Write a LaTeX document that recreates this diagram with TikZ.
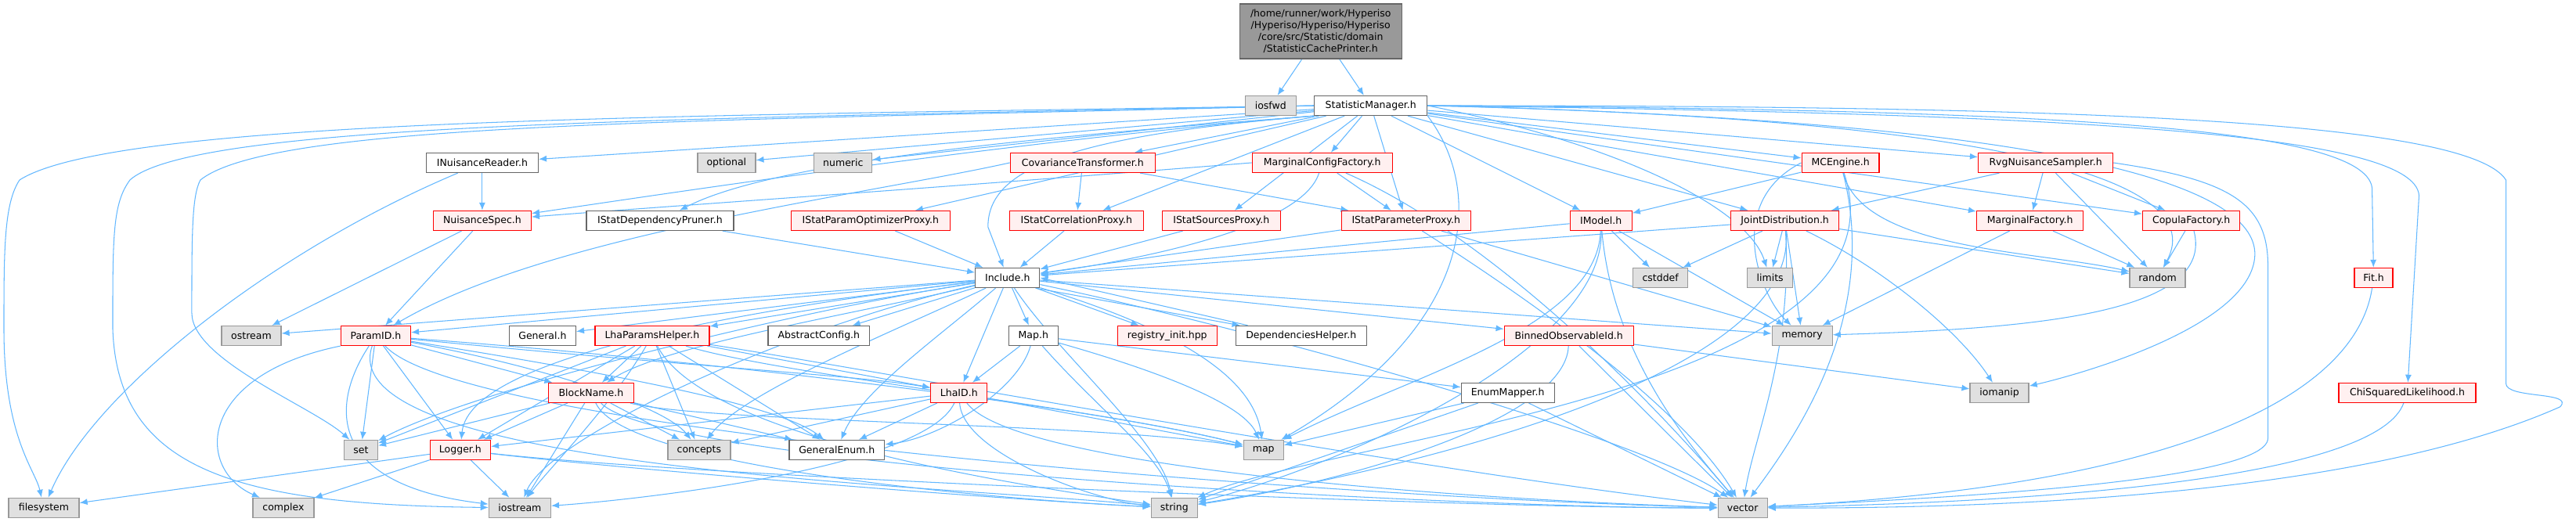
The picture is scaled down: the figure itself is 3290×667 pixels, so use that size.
\documentclass[tikz,border=0pt]{standalone}
\usepackage{fontspec}
\usetikzlibrary{arrows.meta}
\newfontfamily\dvfont{DejaVu Sans}
\definecolor{edgec}{HTML}{63B8FF}
\definecolor{redfill}{HTML}{FFF0F0}
\definecolor{sysfill}{HTML}{E0E0E0}
\definecolor{sysdraw}{HTML}{999999}
\definecolor{plaindraw}{HTML}{666666}
\definecolor{rootfill}{HTML}{999999}
\pgfdeclarelayer{back}
\pgfdeclarelayer{bg}
\pgfsetlayers{back,bg,main}
\tikzset{
  nd/.style={draw, line width=1.3pt, minimum height=25pt, inner sep=0pt, font=\dvfont\fontsize{12.5}{15}\selectfont, text=black},
  rd/.style={nd, fill=redfill, draw=red},
  sy/.style={nd, fill=sysfill, draw=sysdraw},
  pl/.style={nd, fill=white, draw=plaindraw},
  rt/.style={nd, fill=rootfill, draw=plaindraw, align=center},
  e/.style={draw=edgec, line width=1.05pt, -{Latex[length=10pt,width=8pt]}}
}
\begin{document}
\begin{tikzpicture}[x=1pt,y=-1pt]
\begin{pgfonlayer}{back}
\path[use as bounding box, fill=white] (0,0) rectangle (3290,667);
\end{pgfonlayer}
% nodes
\node[rt, minimum width=207pt, minimum height=70pt] (root) at (1687,40) {/home/runner/work/Hyperiso\\/Hyperiso/Hyperiso/Hyperiso\\/core/src/Statistic/domain\\/StatisticCachePrinter.h};
\node[sy, minimum width=65pt] (iosfwd) at (1623,135) {iosfwd};
\node[pl, minimum width=144pt] (sm) at (1751,135) {StatisticManager.h};
\node[pl, minimum width=143pt] (inr) at (616,208) {INuisanceReader.h};
\node[sy, minimum width=74pt] (optional) at (928,208) {optional};
\node[sy, minimum width=74pt] (numeric) at (1077,208) {numeric};
\node[rd, minimum width=185pt] (covt) at (1383,208) {CovarianceTransformer.h};
\node[rd, minimum width=179pt] (mcf) at (1689,208) {MarginalConfigFactory.h};
\node[rd, minimum width=99pt] (mce) at (2351,208) {MCEngine.h};
\node[rd, minimum width=172pt] (rvg) at (2613,208) {RvgNuisanceSampler.h};
\node[rd, minimum width=125pt] (nspec) at (616,282) {NuisanceSpec.h};
\node[pl, minimum width=188pt] (pruner) at (843,282) {IStatDependencyPruner.h};
\node[rd, minimum width=203pt] (optprox) at (1112,282) {IStatParamOptimizerProxy.h};
\node[rd, minimum width=171pt] (corrprox) at (1375,282) {IStatCorrelationProxy.h};
\node[rd, minimum width=151pt] (srcprox) at (1560,282) {IStatSourcesProxy.h};
\node[rd, minimum width=165pt] (parprox) at (1796,282) {IStatParameterProxy.h};
\node[rd, minimum width=79pt] (imodel) at (2045,282) {IModel.h};
\node[rd, minimum width=138pt] (joint) at (2280,282) {JointDistribution.h};
\node[rd, minimum width=136pt] (margf) at (2593,282) {MarginalFactory.h};
\node[rd, minimum width=124pt] (copf) at (2799,282) {CopulaFactory.h};
\node[pl, minimum width=82pt] (include) at (1287,355) {Include.h};
\node[sy, minimum width=70pt] (cstddef) at (2121,355) {cstddef};
\node[sy, minimum width=58pt] (limits) at (2261,355) {limits};
\node[sy, minimum width=71pt] (random) at (2756,355) {random};
\node[rd, minimum width=49pt] (fit) at (3032,355) {Fit.h};
\node[sy, minimum width=76pt] (ostream) at (321,429) {ostream};
\node[rd, minimum width=89pt] (paramid) at (480,429) {ParamID.h};
\node[pl, minimum width=85pt] (general) at (693,429) {General.h};
\node[rd, minimum width=146pt] (lhaph) at (833,429) {LhaParamsHelper.h};
\node[pl, minimum width=130pt] (abscfg) at (1046,429) {AbstractConfig.h};
\node[pl, minimum width=63pt] (maph) at (1320,429) {Map.h};
\node[rd, minimum width=127pt] (reginit) at (1491,429) {registry\_init.hpp};
\node[pl, minimum width=167pt] (dephelp) at (1662,429) {DependenciesHelper.h};
\node[rd, minimum width=165pt] (binned) at (2004,429) {BinnedObservableId.h};
\node[sy, minimum width=77pt] (memory) at (2302,429) {memory};
\node[rd, minimum width=109pt] (blockname) at (755,502) {BlockName.h};
\node[rd, minimum width=72pt] (lhaid) at (1225,502) {LhaID.h};
\node[pl, minimum width=119pt] (enummap) at (1926,502) {EnumMapper.h};
\node[sy, minimum width=75pt] (iomanip) at (2554,502) {iomanip};
\node[rd, minimum width=175pt] (chisq) at (3075,502) {ChiSquaredLikelihood.h};
\node[sy, minimum width=43pt] (set) at (461,575) {set};
\node[rd, minimum width=77pt] (logger) at (588,575) {Logger.h};
\node[sy, minimum width=80pt] (concepts) at (893,575) {concepts};
\node[pl, minimum width=122pt] (genenum) at (1069,575) {GeneralEnum.h};
\node[sy, minimum width=51pt] (map) at (1614,575) {map};
\node[sy, minimum width=90pt] (filesystem) at (56,649) {filesystem};
\node[sy, minimum width=78pt] (complex) at (362,649) {complex};
\node[sy, minimum width=79pt] (iostream) at (664,649) {iostream};
\node[sy, minimum width=59pt] (string) at (1500,649) {string};
\node[sy, minimum width=63pt] (vector) at (2226,649) {vector};
% edges
\begin{pgfonlayer}{bg}
\draw[e] (root) -- (iosfwd);
\draw[e] (root) -- (sm);
% StatisticManager
\draw[e] (sm) -- (inr);
\draw[e] (sm) -- (optional);
\draw[e] (sm) -- (numeric);
\draw[e] (sm) -- (covt);
\draw[e] (sm) -- (mcf);
\draw[e] (sm) -- (mce);
\draw[e] (sm) -- (rvg);
\draw[e] (sm.south west) .. controls (1300,180) and (900,240) .. (nspec);
\draw[e] (sm.south west) .. controls (1400,170) and (1000,200) .. (pruner);
\draw[e] (sm) -- (optprox);
\draw[e] (sm) -- (corrprox);
\draw[e] (sm) -- (srcprox);
\draw[e] (sm) -- (parprox);
\draw[e] (sm) -- (imodel);
\draw[e] (sm) -- (joint);
\draw[e] (sm) -- (margf);
\draw[e] (sm) -- (copf);
\draw[e] (sm.south west) .. controls (1350,175) and (1262,220) .. (1262,290) -- (include);
\draw[e] (sm.east) .. controls (2600,140) and (3020,160) .. (3030,240) -- (fit);
\draw[e] (sm.east) .. controls (2650,145) and (3085,170) .. (3090,250) -- (chisq);
\draw[e] (sm.east) .. controls (2050,180) and (2230,260) .. (limits);
\draw[e] (sm.east) .. controls (2500,150) and (2830,220) .. (random);
\draw[e] (sm.east) .. controls (2650,155) and (2890,240) .. (2880,330) .. controls (2870,420) and (2650,480) .. (iomanip);
\draw[e] (sm.south east) .. controls (1900,250) and (1880,420) .. (map);
\draw[e] (sm.west) .. controls (900,148) and (150,150) .. (25,230) .. controls (5,260) and (5,320) .. (5,420) .. controls (5,560) and (45,600) .. (filesystem);
\draw[e] (sm.west) .. controls (900,152) and (250,155) .. (166,230) .. controls (144,260) and (144,300) .. (144,420) .. controls (150,600) and (300,645) .. (iostream);
\draw[e] (sm.west) .. controls (900,155) and (350,155) .. (256,230) .. controls (245,250) and (245,300) .. (245,400) .. controls (245,460) and (400,520) .. (set);
\draw[e] (sm.east) .. controls (2600,135) and (3150,150) .. (3201,230) -- (3201,490) .. controls (3201,510) and (3290,500) .. (3270,520) .. controls (3000,640) and (2500,650) .. (vector);
% row 2
\draw[e] (inr) -- (nspec);
\draw[e] (inr) .. controls (350,320) and (120,500) .. (filesystem);
\draw[e] (covt) -- (corrprox);
\draw[e] (covt) -- (parprox);
\draw[e] (covt.west) .. controls (1100,250) and (700,300) .. (paramid);
\draw[e] (mcf.west) .. controls (1200,240) and (900,260) .. (nspec);
\draw[e] (mcf) -- (parprox);
\draw[e] (mcf) .. controls (1660,300) and (1400,340) .. (include);
\draw[e] (mcf) .. controls (1900,300) and (2100,500) .. (vector);
\draw[e] (mce) -- (imodel);
\draw[e] (mce.west) .. controls (2200,260) and (2250,380) .. (memory);
\draw[e] (mce) .. controls (2380,320) and (2600,320) .. (random);
\draw[e] (mce) .. controls (2400,400) and (2300,550) .. (vector);
\draw[e] (mce) .. controls (2450,500) and (1700,560) .. (string);
\draw[e] (rvg) -- (joint);
\draw[e] (rvg) -- (margf);
\draw[e] (rvg) -- (copf);
\draw[e] (rvg) -- (random);
\draw[e] (rvg.east) .. controls (2850,230) and (2897,260) .. (2897,340) -- (2897,560) .. controls (2897,620) and (2400,640) .. (vector);
% row 3
\draw[e] (nspec) -- (ostream);
\draw[e] (nspec) -- (paramid);
\draw[e] (pruner) -- (include);
\draw[e] (optprox) -- (include);
\draw[e] (corrprox) -- (include);
\draw[e] (srcprox) -- (include);
\draw[e] (parprox) -- (include);
\draw[e] (parprox) -- (memory);
\draw[e] (parprox) .. controls (1950,380) and (2150,520) .. (vector);
\draw[e] (imodel) -- (include);
\draw[e] (imodel) -- (cstddef);
\draw[e] (imodel) -- (memory);
\draw[e] (imodel) .. controls (2040,420) and (1800,480) .. (map);
\draw[e] (imodel) .. controls (2050,450) and (1700,600) .. (string);
\draw[e] (imodel) .. controls (2060,450) and (2150,560) .. (vector);
\draw[e] (joint) -- (include);
\draw[e] (joint) -- (cstddef);
\draw[e] (joint) -- (limits);
\draw[e] (joint) -- (memory);
\draw[e] (joint) -- (random);
\draw[e] (joint) .. controls (2400,340) and (2500,420) .. (iomanip);
\draw[e] (joint) .. controls (2290,450) and (2240,560) .. (vector);
\draw[e] (joint) .. controls (2300,480) and (1800,600) .. (string);
\draw[e] (margf) -- (random);
\draw[e] (margf) -- (memory);
\draw[e] (copf) -- (random);
\draw[e] (copf) .. controls (2830,400) and (2600,420) .. (memory);
% Include.h
\draw[e] (include) -- (ostream);
\draw[e] (include) -- (paramid);
\draw[e] (include) -- (general);
\draw[e] (include) -- (lhaph);
\draw[e] (include) -- (abscfg);
\draw[e] (include) -- (maph);
\draw[e] (include) -- (reginit);
\draw[e] ([xshift=-6pt]include.south east) -- ([xshift=6pt]dephelp.north west);
\draw[e] ([xshift=16pt]dephelp.north west) -- (include.east);
\draw[e] (include) -- (binned);
\draw[e] (include) -- (memory);
\draw[e] (include) .. controls (1100,400) and (850,440) .. (blockname);
\draw[e] (include) -- (lhaid);
\draw[e] (include) .. controls (1000,390) and (600,450) .. (logger);
\draw[e] (include) .. controls (1150,420) and (950,500) .. (concepts);
\draw[e] (include) .. controls (1200,430) and (1100,500) .. (genenum);
\draw[e] (include) .. controls (1500,420) and (1600,480) .. (map);
\draw[e] (include) .. controls (1350,450) and (1480,560) .. (string);
\draw[e] (include) .. controls (1600,420) and (2100,560) .. (vector);
\draw[e] (include) .. controls (1000,420) and (700,560) .. (iostream);
\draw[e] (include) .. controls (1000,400) and (600,500) .. (set);
% ParamID
\draw[e] (paramid) -- (set);
\draw[e] (paramid) -- (logger);
\draw[e] (paramid) -- (blockname);
\draw[e] (paramid) .. controls (900,470) and (1100,480) .. (lhaid);
\draw[e] (paramid) .. controls (800,480) and (1000,520) .. (genenum);
\draw[e] (paramid) .. controls (700,470) and (850,520) .. (concepts);
\draw[e] (paramid) .. controls (420,520) and (420,620) .. (iostream);
\draw[e] (paramid.south west) .. controls (250,480) and (250,600) .. (complex);
\draw[e] (paramid) .. controls (420,600) and (1200,620) .. (string);
\draw[e] (paramid) .. controls (900,460) and (1400,520) .. (map);
\draw[e] (paramid) .. controls (600,560) and (1800,640) .. (vector);
% LhaParamsHelper
\draw[e] (lhaph) -- (blockname);
\draw[e] (lhaph) -- (logger);
\draw[e] (lhaph) -- (set);
\draw[e] (lhaph) -- (concepts);
\draw[e] (lhaph) -- (genenum);
\draw[e] (lhaph) -- (lhaid);
\draw[e] (lhaph) .. controls (780,520) and (700,600) .. (iostream);
\draw[e] (lhaph) .. controls (1000,480) and (1400,520) .. (map);
\draw[e] (lhaph) .. controls (900,560) and (1300,620) .. (string);
\draw[e] (lhaph) .. controls (1100,470) and (1800,600) .. (vector);
% BlockName
\draw[e] (blockname) -- (set);
\draw[e] (blockname) -- (logger);
\draw[e] (blockname) -- (concepts);
\draw[e] (blockname) -- (genenum);
\draw[e] (blockname) -- (iostream);
\draw[e] (blockname) .. controls (900,540) and (1400,540) .. (map);
\draw[e] (blockname) .. controls (800,600) and (1300,640) .. (string);
\draw[e] (blockname) .. controls (850,600) and (1900,650) .. (vector);
% LhaID
\draw[e] (lhaid) -- (logger);
\draw[e] (lhaid) -- (concepts);
\draw[e] (lhaid) -- (genenum);
\draw[e] (lhaid) -- (map);
\draw[e] (lhaid) .. controls (1230,580) and (1400,640) .. (string);
\draw[e] (lhaid) .. controls (1300,600) and (1900,640) .. (vector);
\draw[e] (lhaid) .. controls (1180,600) and (800,640) .. (iostream);
% Logger
\draw[e] (logger) -- (filesystem);
\draw[e] (logger) -- (complex);
\draw[e] (logger) -- (iostream);
\draw[e] (logger) .. controls (800,600) and (1300,640) .. (string);
\draw[e] (logger) .. controls (900,610) and (1900,650) .. (vector);
% Map.h
\draw[e] (maph) -- (lhaid);
\draw[e] (maph) .. controls (1300,500) and (1200,560) .. (genenum);
\draw[e] (maph) -- (enummap);
\draw[e] (maph) .. controls (1500,480) and (1590,520) .. (map);
\draw[e] (maph) .. controls (1400,520) and (1480,580) .. (string);
% EnumMapper
\draw[e] (enummap) -- (map);
\draw[e] (enummap) -- (string);
\draw[e] (enummap) -- (vector);
% BinnedObservableId
\draw[e] (binned) -- (iomanip);
\draw[e] (binned) -- (vector);
\draw[e] (binned) .. controls (2000,540) and (1700,620) .. (string);
% Fit, ChiSquared
\draw[e] (fit) .. controls (3010,500) and (2800,620) .. (vector);
\draw[e] (chisq) .. controls (3040,600) and (2700,640) .. (vector);
\end{pgfonlayer}
\end{tikzpicture}
\end{document}
